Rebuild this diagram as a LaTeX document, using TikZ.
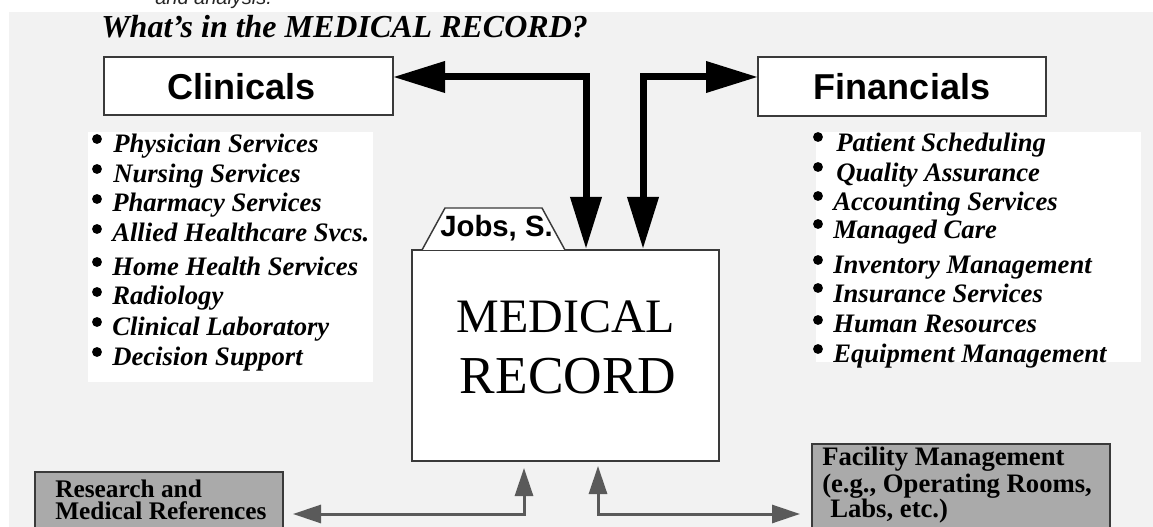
\documentclass[tikz,border=0pt]{standalone}
\usepackage{fontspec}
\setmainfont{Liberation Serif}
\newfontfamily\hsans{Liberation Sans}
\usetikzlibrary{arrows.meta,calc}
\newdimen\pxu \pxu=0.75pt
\definecolor{bggray}{HTML}{F2F2F2}
\definecolor{boxline}{HTML}{3A3A3A}
\definecolor{boxgray}{HTML}{AAAAAA}
\definecolor{arrgray}{HTML}{5A5A5A}
\tikzset{
  box/.style={draw=boxline, line width=1.1pt, fill=white, inner sep=0pt, outer sep=0pt, anchor=north west},
  listbg/.style={draw=none, fill=white, inner sep=0pt, outer sep=0pt, anchor=north west},
  item/.style={anchor=base west, inner sep=0pt, font=\bfseries\itshape\fontsize{20pt}{24pt}\selectfont},
  graytext/.style={anchor=base west, inner sep=0pt, font=\bfseries\fontsize{19pt}{21pt}\selectfont},
  headtext/.style={font=\hsans\bfseries\fontsize{27pt}{30pt}\selectfont},
  thickarr/.style={draw=black, line width=5.25pt, line join=miter,
    {Triangle[length=39pt,width=22.5pt]}-{Triangle[length=39pt,width=22.5pt]}},
  grayarr/.style={draw=arrgray, line width=2.25pt, line join=miter,
    {Triangle[length=21pt,width=13.5pt]}-{Triangle[length=21pt,width=13.5pt]}},
  bul/.style={fill=black}
}
\begin{document}
\begin{tikzpicture}[x=0.75pt,y=-0.75pt]
\fill[white] (0,0) rectangle (1153,527);
\fill[bggray] (9,12) rectangle (1153,527);
\useasboundingbox (0,0) rectangle (1153,527);

% top clipped text
\node[anchor=base west, inner sep=0pt, font=\hsans\itshape\fontsize{15pt}{18pt}\selectfont, text=black!85] (topline) at (155,5) {and analysis.};

% title
\node[anchor=base west, inner sep=0pt, font=\bfseries\itshape\fontsize{24pt}{28pt}\selectfont] (title) at (101,38) {What's in the MEDICAL RECORD?};

% list backgrounds
\node[listbg, minimum width=285\pxu, minimum height=250\pxu] (cwhite) at (88,132) {};
\node[listbg, minimum width=325\pxu, minimum height=230\pxu] (fwhite) at (816,132) {};

% head boxes
\node[box, minimum width=289\pxu, minimum height=58\pxu] (cl) at (104,57) {};
\node[headtext, inner sep=0pt, xshift=-7\pxu, yshift=-1\pxu] (cltext) at (cl.center) {Clinicals};
\node[box, headtext, minimum width=288\pxu, minimum height=59\pxu] (fin) at (758,57) {Financials};

% medical record folder
\node[box, minimum width=307\pxu, minimum height=211\pxu] (mr) at (412,250) {};
\draw[draw=boxline, line width=1.1pt, fill=white, line join=miter]
  ($(mr.north west)+(10,0)$) -- ++(23,-42) -- ++(97,0) -- ($(mr.north west)+(153,0)$);
\node[anchor=base west, inner sep=0pt, font=\hsans\bfseries\fontsize{22pt}{24pt}\selectfont] (jobs) at (440,237) {Jobs, S.};
\node[anchor=base, inner sep=0pt, font=\fontsize{36pt}{40pt}\selectfont] (med) at (566,332) {MEDICAL};
\node[anchor=base, inner sep=0pt, font=\fontsize{40pt}{44pt}\selectfont] (rec) at (568,393) {RECORD};

% gray boxes
\node[box, fill=boxgray, minimum width=248\pxu, minimum height=70\pxu] (res) at (35,472) {};
\node[graytext] (res1) at (55,497) {Research and};
\node[graytext] (res2) at (55,519) {Medical References};
\node[box, fill=boxgray, minimum width=298\pxu, minimum height=100\pxu] (fac) at (812,444) {};
\node[graytext, font=\bfseries\fontsize{20pt}{22pt}\selectfont] (fac1) at (822,465) {Facility Management};
\node[graytext, font=\bfseries\fontsize{20pt}{22pt}\selectfont] (fac2) at (822,492) {(e.g., Operating Rooms,};
\node[graytext, font=\bfseries\fontsize{20pt}{22pt}\selectfont] (fac3) at (830,517) {Labs, etc.)};

% thick arrows
\coordinate (clA) at ($(cl.north east)+(0,20)$);
\coordinate (mrA) at ($(mr.north west)+(174,-1)$);
\coordinate (mrB) at ($(mr.north west)+(231,-1)$);
\coordinate (finA) at ($(fin.north west)+(0,20)$);
\draw[thickarr] (clA) -| (mrA);
\draw[thickarr] (mrB) |- (finA);

% gray arrows
\coordinate (resA) at ($(res.north east)+(10,42)$);
\coordinate (mrC) at ($(mr.south west)+(112,7)$);
\coordinate (mrD) at ($(mr.south west)+(186,5)$);
\coordinate (facA) at ($(fac.north west)+(-12,70)$);
\draw[grayarr] (resA) -| (mrC);
\draw[grayarr] (mrD) |- (facA);

% clinical list
\node[item] (c1) at (113,153) {Physician Services};
\node[item] (c2) at (113,183) {Nursing Services};
\node[item] (c3) at (112,212) {Pharmacy Services};
\node[item] (c4) at (112,242) {Allied Healthcare Svcs.};
\node[item] (c5) at (112,276) {Home Health Services};
\node[item] (c6) at (112,305) {Radiology};
\node[item] (c7) at (112,335) {Clinical Laboratory};
\node[item] (c8) at (112,365) {Decision Support};
\foreach \yy in {139,169,199,229,262,292,322,352}
  \fill[bul] (97,\yy) circle[radius=3.7pt];

% financial list
\node[item] (f1) at (836,152) {Patient Scheduling};
\node[item] (f2) at (836,182) {Quality Assurance};
\node[item] (f3) at (833,211) {Accounting Services};
\node[item] (f4) at (833,239) {Managed Care};
\node[item] (f5) at (833,274) {Inventory Management};
\node[item] (f6) at (833,303) {Insurance Services};
\node[item] (f7) at (833,333) {Human Resources};
\node[item] (f8) at (833,363) {Equipment Management};
\foreach \yy in {137,167,196,224,260,288,320,349}
  \fill[bul] (818,\yy) circle[radius=3.7pt];
\end{tikzpicture}
\end{document}
